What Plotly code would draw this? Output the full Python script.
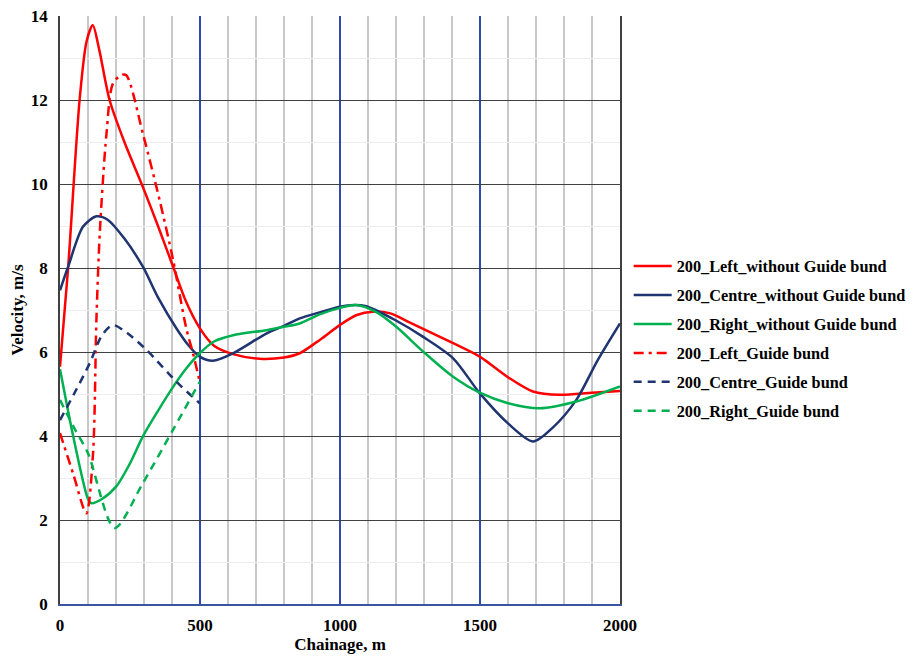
import plotly.graph_objects as go

# Chainage (m) and velocity (m/s)
left_wo_x = [0, 29, 70, 95, 117, 140, 177, 230, 296, 350, 404, 450, 499, 550, 618, 713, 800, 856, 930, 999, 1060, 1117, 1180, 1250, 1404, 1499, 1600, 1689, 1785, 1900, 2000]
left_wo_y = [5.65, 8.0, 12.0, 13.4, 13.78, 13.2, 12.0, 11.0, 9.93, 9.0, 8.03, 7.2, 6.57, 6.15, 5.95, 5.84, 5.87, 5.97, 6.3, 6.64, 6.88, 6.96, 6.92, 6.7, 6.21, 5.89, 5.4, 5.06, 4.98, 5.03, 5.07]

centre_wo_x = [0, 29, 82, 130, 170, 230, 296, 350, 416, 460, 499, 546, 618, 737, 800, 856, 930, 999, 1050, 1094, 1200, 1297, 1404, 1499, 1600, 1690, 1760, 1844, 1920, 2000]
centre_wo_y = [7.47, 8.03, 8.98, 9.23, 9.15, 8.7, 8.03, 7.3, 6.56, 6.15, 5.89, 5.79, 5.97, 6.44, 6.62, 6.8, 6.95, 7.08, 7.12, 7.09, 6.75, 6.36, 5.85, 5.02, 4.3, 3.87, 4.2, 4.86, 5.8, 6.68]

right_wo_x = [0, 23, 47, 100, 112, 150, 201, 250, 296, 350, 404, 450, 499, 550, 618, 737, 800, 856, 930, 1000, 1058, 1130, 1201, 1297, 1404, 1499, 1600, 1713, 1844, 2000]
right_wo_y = [5.59, 4.8, 4.0, 2.5, 2.4, 2.5, 2.8, 3.35, 3.99, 4.6, 5.17, 5.6, 5.97, 6.25, 6.4, 6.52, 6.6, 6.68, 6.9, 7.05, 7.12, 6.95, 6.6, 6.01, 5.41, 5.03, 4.78, 4.66, 4.82, 5.18]

left_gb_x = [0, 47, 94, 118, 130, 142, 166, 189, 220, 237, 296, 356, 404, 451, 475, 499]
left_gb_y = [4.07, 3.1, 2.16, 3.59, 6.76, 8.82, 11.2, 12.39, 12.6, 12.59, 11.2, 9.61, 8.19, 6.56, 5.97, 5.29]

centre_gb_x = [0, 50, 106, 150, 189, 240, 309, 416, 499]
centre_gb_y = [4.38, 5.0, 5.73, 6.4, 6.64, 6.45, 6.05, 5.29, 4.78]

right_gb_x = [0, 50, 100, 195, 296, 404, 499]
right_gb_y = [4.86, 4.2, 3.59, 1.81, 2.88, 4.15, 5.29]

x_ticks = [0, 500, 1000, 1500, 2000]
x_minor = [v for v in range(100, 2000, 100) if v % 500]
y_ticks = [0, 2, 4, 6, 8, 10, 12, 14]
y_minor = [1, 3, 5, 7, 9, 11, 13]

RED = "#ff0000"
NAVY = "#1f3470"
GREEN = "#00b050"
FONT = "Liberation Serif"

series = [
    ("200_Left_without Guide bund", left_wo_x, left_wo_y, RED, "solid"),
    ("200_Centre_without Guide bund", centre_wo_x, centre_wo_y, NAVY, "solid"),
    ("200_Right_without Guide bund", right_wo_x, right_wo_y, GREEN, "solid"),
    ("200_Left_Guide bund", left_gb_x, left_gb_y, RED, "10px,5px,3px,5px"),
    ("200_Centre_Guide bund", centre_gb_x, centre_gb_y, NAVY, "8px,6px"),
    ("200_Right_Guide bund", right_gb_x, right_gb_y, GREEN, "8px,6px"),
]

fig = go.Figure()
for i, (name, xs, ys, color, dash) in enumerate(series):
    fig.add_trace(go.Scatter(
        x=xs, y=ys, name=name, mode="lines", legendgroup=str(i),
        line=dict(color=color, width=2.5, dash=dash, shape="spline", smoothing=0.8),
    ))

# page body has an 8px default margin, so the figure is drawn 8px in from the window edge
fig.update_layout(
    width=911, height=650,
    margin=dict(l=52, r=299, t=8, b=54),
    plot_bgcolor="white", paper_bgcolor="white",
    font=dict(family=FONT, size=17, color="black"),
    showlegend=True,
    legend=dict(
        x=1.0155, y=0.451, xanchor="left", yanchor="middle",
        font=dict(family=FONT, size=16.3, color="black", weight="bold"),
        traceorder="grouped", tracegroupgap=4.8, itemwidth=38,
        bgcolor="rgba(0,0,0,0)",
    ),
    xaxis=dict(
        range=[0, 2000], tickvals=x_ticks, ticktext=[str(v) for v in x_ticks],
        showgrid=True, gridcolor="#3048b0", gridwidth=1.5,
        minor=dict(tickmode="array", tickvals=x_minor, showgrid=True, gridcolor="#c8c8c8", gridwidth=1.5),
        showline=True, linecolor="#3a55a0", linewidth=1.5,
        ticks="", zeroline=False, automargin=False, ticklabelstandoff=5,
        ticklabeloverflow="allow",
        tickfont=dict(family=FONT, size=17, color="black", weight="bold"),
        title=dict(text="<b>Chainage, m</b>", font=dict(family=FONT, size=17, color="black"), standoff=3),
    ),
    yaxis=dict(
        range=[0, 14], tickvals=y_ticks, ticktext=[str(v) for v in y_ticks],
        showgrid=True, gridcolor="#404040", gridwidth=1.2,
        minor=dict(tickmode="array", tickvals=y_minor, showgrid=True, gridcolor="#eeeeee", gridwidth=1),
        showline=True, linecolor="#404040", linewidth=1.5, mirror=True,
        ticks="", zeroline=False, automargin=False, ticklabelstandoff=7,
        ticklabeloverflow="allow",
        tickfont=dict(family=FONT, size=17, color="black", weight="bold"),
        title=dict(text="<b>Velocity, m/s</b>", font=dict(family=FONT, size=17, color="black"), standoff=5),
    ),
)

fig.write_html("out.html")
